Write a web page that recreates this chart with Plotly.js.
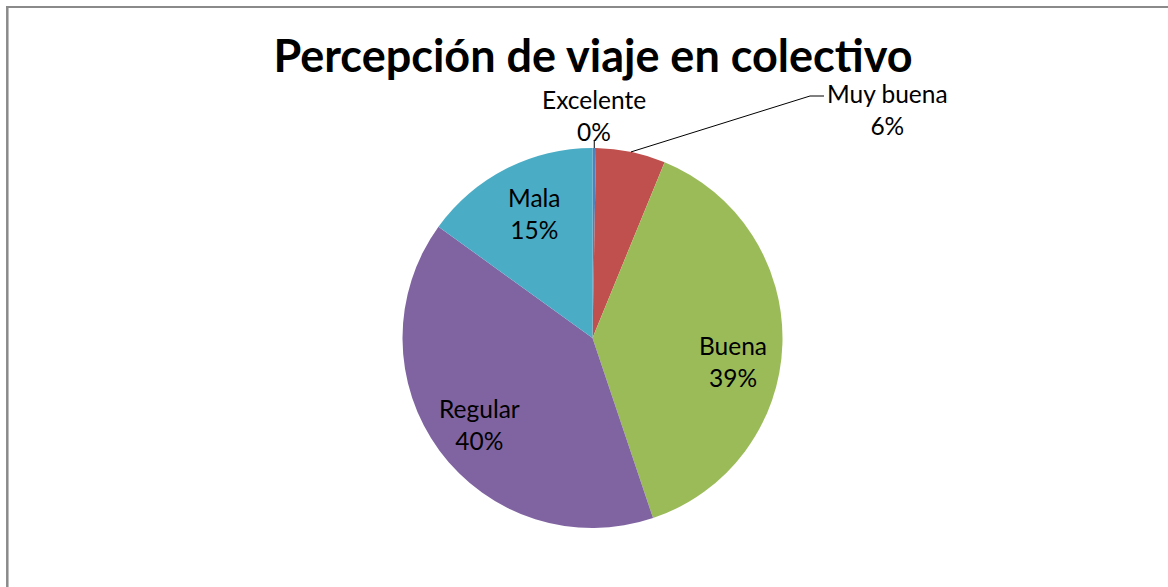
<!DOCTYPE html>
<html>
<head>
<meta charset="utf-8">
<script src="https://cdn.plot.ly/plotly-3.0.1.min.js"></script>
<style>
html,body{margin:0;padding:0;background:#fff;}
#chart{width:1168px;height:587px;}
</style>
</head>
<body>
<div id="chart"></div>
<script>
// Data
const categories = ["Excelente", "Muy buena", "Buena", "Regular", "Mala"];
const values = [1, 20, 131, 136, 51];
const percentLabels = ["0%", "6%", "39%", "40%", "15%"];
const colors = ["#4F81BD", "#C0504D", "#9BBB59", "#8064A2", "#4BACC6"];
const titleText = "Percepción de viaje en colectivo";

const W = 1168, H = 587;
const cx = 592.5, cy = 338, R = 190;
const FONT = "Lato, 'Open Sans', sans-serif";
const LABEL_SIZE = 24.5;

function px2x(px){ return px / W; }
function py2y(py){ return 1 - py / H; }

const total = values.reduce((a,b)=>a+b,0);
let cum = 0;
const mids = values.map(v => { const m = (cum + v/2)/total; cum += v; return m*2*Math.PI; });
function polar(ang, r){ return [cx + r*Math.sin(ang), cy - r*Math.cos(ang)]; }

const annotations = [];
const shapes = [];
// inside labels (best-fit style placement, small pixel nudges)
const nudges = {2:[0,19], 3:[0,3], 4:[6,1]};
[2,3,4].forEach(i => {
  const p = polar(mids[i], 0.74*R);
  annotations.push({x:px2x(p[0]+nudges[i][0]), y:py2y(p[1]+nudges[i][1]), xref:'paper', yref:'paper',
    text: categories[i] + "<br>" + percentLabels[i], showarrow:false, borderpad:0,
    font:{family:FONT, size:LABEL_SIZE, color:'#000'}, align:'center', xanchor:'center', yanchor:'middle'});
});
// Excelente (outside, above)
{
  const e = polar(mids[0], R);
  annotations.push({x:px2x(e[0]), y:py2y(115), xref:'paper', yref:'paper',
    text: categories[0] + "<br>" + percentLabels[0], showarrow:false, borderpad:0,
    font:{family:FONT, size:LABEL_SIZE, color:'#000'}, align:'center', xanchor:'center', yanchor:'middle'});
  shapes.push({type:'line', xref:'paper', yref:'paper', x0:px2x(e[0]), x1:px2x(e[0]), y0:py2y(e[1]), y1:py2y(e[1]-8),
    line:{color:'#000', width:1}});
}
// Muy buena (outside, with leader)
{
  const m = polar(mids[1], R);
  annotations.push({x:px2x(887), y:py2y(109), xref:'paper', yref:'paper',
    text: categories[1] + "<br>" + percentLabels[1], showarrow:false, borderpad:0,
    font:{family:FONT, size:LABEL_SIZE, color:'#000'}, align:'center', xanchor:'center', yanchor:'middle'});
  const path = `M ${px2x(m[0])} ${py2y(m[1])} L ${px2x(810)} ${py2y(96)} L ${px2x(824)} ${py2y(96)}`;
  shapes.push({type:'path', xref:'paper', yref:'paper', path:path, line:{color:'#000', width:1}});
}
// frame (left & top edges)
shapes.push({type:'line', xref:'paper', yref:'paper', x0:px2x(7.3), x1:px2x(7.3), y0:py2y(6), y1:py2y(H+5), line:{color:'#8a8a8a', width:2.5}});
shapes.push({type:'line', xref:'paper', yref:'paper', x0:px2x(6), x1:px2x(W+5), y0:py2y(7), y1:py2y(7), line:{color:'#8a8a8a', width:2}});

const trace = {
  type:'pie', labels:categories, values:values, sort:false, direction:'clockwise', rotation:0,
  marker:{colors:colors, line:{width:0}}, textinfo:'none', hoverinfo:'label+percent',
  domain:{x:[px2x(cx-R), px2x(cx+R)], y:[py2y(cy+R), py2y(cy-R)]}, showlegend:false
};

const layout = {
  width:W, height:H, margin:{l:0,r:0,t:0,b:0}, paper_bgcolor:'#fff', plot_bgcolor:'#fff',
  title:{text:titleText, x:px2x(593), xanchor:'center', y:py2y(56), yanchor:'middle',
    font:{family:FONT, size:45, weight:700, color:'#000'}},
  annotations:annotations, shapes:shapes, showlegend:false
};
Plotly.newPlot('chart', [trace], layout, {displayModeBar:false, staticPlot:true});
</script>
</body>
</html>
